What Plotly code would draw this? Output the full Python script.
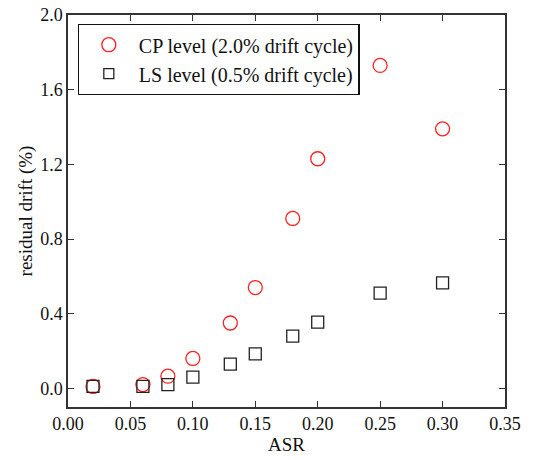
import plotly.graph_objects as go

asr = [0.02, 0.06, 0.08, 0.10, 0.13, 0.15, 0.18, 0.20, 0.25, 0.30]
cp_drift = [0.01, 0.02, 0.065, 0.16, 0.35, 0.54, 0.91, 1.23, 1.73, 1.39]
ls_drift = [0.01, 0.01, 0.02, 0.06, 0.13, 0.185, 0.28, 0.355, 0.51, 0.565]

x_ticks = [0.00, 0.05, 0.10, 0.15, 0.20, 0.25, 0.30, 0.35]
y_ticks = [0.0, 0.4, 0.8, 1.2, 1.6, 2.0]

cp_name = "CP level (2.0% drift cycle)"
ls_name = "LS level (0.5% drift cycle)"
red = "#ff2020"
dark = "#222222"

fig = go.Figure()
fig.add_trace(go.Scatter(
    x=asr, y=cp_drift, mode="markers", name=cp_name, showlegend=False,
    marker=dict(symbol="circle-open", size=14, color=red, line=dict(width=1.3)),
))
fig.add_trace(go.Scatter(
    x=asr, y=ls_drift, mode="markers", name=ls_name, showlegend=False,
    marker=dict(symbol="square-open", size=12, color=dark, line=dict(width=1.3)),
))
# legend entries (legend symbols are drawn at their own sizes in the reference)
fig.add_trace(go.Scatter(
    x=[None], y=[None], mode="markers", name=cp_name,
    marker=dict(symbol="circle-open", size=14, color=red, line=dict(width=1.3)),
))
fig.add_trace(go.Scatter(
    x=[None], y=[None], mode="markers", name=ls_name,
    marker=dict(symbol="square-open", size=10, color=dark, line=dict(width=1.3)),
))

tick_font = dict(family="Liberation Serif", size=18, color="#111111")
title_font = dict(family="Liberation Serif", size=19, color="#111111")
legend_font = dict(family="Liberation Serif", size=20, color="#111111")
axis_common = dict(
    showgrid=False, zeroline=False, showline=True, linecolor="#333333", linewidth=1.5,
    mirror="ticks", ticks="inside", ticklen=6, tickcolor="#333333", tickwidth=1.2,
    tickfont=tick_font,
)
fig.update_xaxes(range=[0, 0.35], tickvals=x_ticks, tickformat=".2f",
                 title=dict(text="ASR", font=title_font, standoff=2), **axis_common)
fig.update_yaxes(range=[-0.1, 2.0], tickvals=y_ticks, tickformat=".1f",
                 title=dict(text="residual drift (%)", font=title_font, standoff=3), **axis_common)

fig.update_layout(
    width=544, height=460, template="none",
    paper_bgcolor="white", plot_bgcolor="white",
    margin=dict(l=68, r=39, t=15, b=53),
    font=title_font,
    legend=dict(x=0.022, y=0.977, xanchor="left", yanchor="top",
                bordercolor="#111111", borderwidth=1.2, bgcolor="white",
                font=legend_font, itemwidth=50, tracegroupgap=0),
    showlegend=True,
)
fig.write_html("out.html")
